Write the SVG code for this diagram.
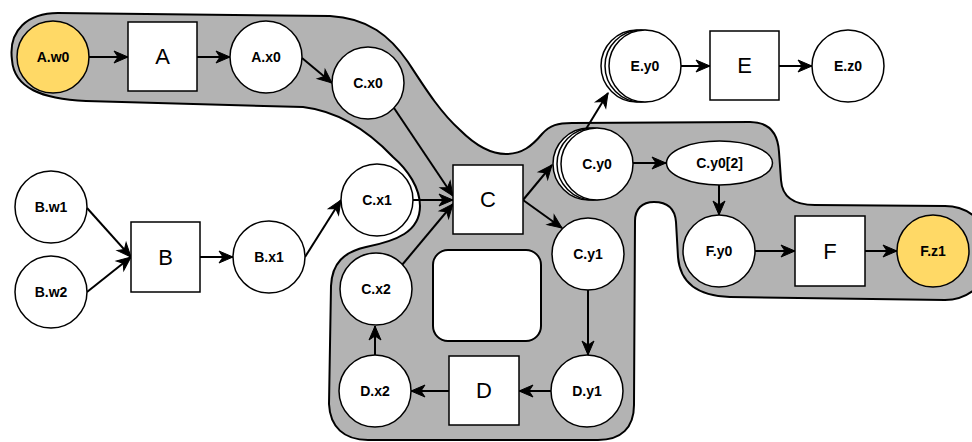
<svg xmlns="http://www.w3.org/2000/svg" width="972" height="442" viewBox="0 0 972 442">
  <defs>
    <marker id="arrow" markerUnits="userSpaceOnUse" markerWidth="16" markerHeight="14" refX="14" refY="6" orient="auto" overflow="visible">
      <path d="M0,0 L14,6 L0,12 L4,6 Z" fill="#000" stroke="#000" stroke-width="1" stroke-linejoin="miter"/>
    </marker>
  </defs>
  <style>
    .blob { fill: #b3b3b3; stroke: #000; stroke-width: 2; stroke-linejoin: round; }
    .hole { fill: #fff; stroke: #000; stroke-width: 2; }
    .var { fill: #fff; stroke: #000; stroke-width: 1.5; }
    .io { fill: #ffd966; stroke: #000; stroke-width: 1.5; }
    .op { fill: #fff; stroke: #000; stroke-width: 1.5; }
    .vlabel { font-family: "Liberation Sans", Arial, sans-serif; font-size: 14px; font-weight: bold; text-anchor: middle; fill: #000; }
    .oplabel { font-family: "Liberation Sans", Arial, sans-serif; font-size: 22px; text-anchor: middle; fill: #000; }
    .edge { fill: none; stroke: #000; stroke-width: 2; marker-end: url(#arrow); }
  </style>

  <!-- shaded region grouping the traced path -->
  <g id="region">
    <path class="blob" d="M 12,60 C 8,30 28,13 58,13 L 330,16 C 368,18 390,36 408,62 C 425,88 440,112 460,130 C 478,148 492,154 506,154 C 522,154 532,146 542,134 C 550,125 558,123 572,123 L 750,122 C 770,122 778,134 779,152 L 781,180 C 782,196 792,205 815,205 L 945,206 A 47,47 0 0 1 945,300 L 730,297 C 697,296 680,282 678,257 L 676,222 C 675,209 668,202 654,202 C 642,202 635,209 635,221 L 634,405 C 634,428 621,440 598,440 L 368,440 C 344,440 330,427 329,404 L 331,286 C 332,263 344,252 366,247 C 396,241 420,232 420,206 C 420,188 408,170 393,157 C 375,138 345,112 303,107 L 86,101 C 42,99 14,88 12,60 Z"/>
    <rect class="hole" x="433" y="250" width="108" height="91" rx="15" ry="15"/>
  </g>

  <!-- connectors -->
  <g id="edges">
    <line class="edge" x1="89" y1="57" x2="128" y2="57"/>
    <line class="edge" x1="197" y1="57" x2="230" y2="57"/>
    <line class="edge" x1="302" y1="58" x2="332" y2="83"/>
    <line class="edge" x1="394" y1="108" x2="453" y2="196"/>
    <line class="edge" x1="413" y1="200" x2="453" y2="200"/>
    <line class="edge" x1="402" y1="265" x2="453" y2="204"/>
    <line class="edge" x1="87" y1="208" x2="131" y2="257"/>
    <line class="edge" x1="87" y1="292" x2="131" y2="257"/>
    <line class="edge" x1="200" y1="257" x2="233" y2="257"/>
    <line class="edge" x1="305" y1="257" x2="341" y2="200"/>
    <line class="edge" x1="523" y1="200" x2="552" y2="165"/>
    <line class="edge" x1="523" y1="200" x2="562" y2="228"/>
    <line class="edge" x1="586" y1="129" x2="608" y2="93"/>
    <line class="edge" x1="681" y1="66" x2="710" y2="66"/>
    <line class="edge" x1="779" y1="66" x2="812" y2="66"/>
    <line class="edge" x1="633" y1="163" x2="666" y2="163"/>
    <line class="edge" x1="719" y1="185" x2="719" y2="215"/>
    <line class="edge" x1="755" y1="251" x2="795" y2="251"/>
    <line class="edge" x1="865" y1="251" x2="897" y2="251"/>
    <line class="edge" x1="588" y1="290" x2="588" y2="355"/>
    <line class="edge" x1="551" y1="391" x2="519" y2="391"/>
    <line class="edge" x1="449" y1="391" x2="411" y2="391"/>
    <line class="edge" x1="375" y1="355" x2="375" y2="326"/>
  </g>

  <!-- nodes -->
  <g id="A.w0"><circle class="io" cx="53" cy="57" r="36"/><text class="vlabel" x="53" y="62">A.w0</text></g>
  <g id="A"><rect class="op" x="128" y="22" width="69" height="69"/><text class="oplabel" x="162.5" y="64">A</text></g>
  <g id="A.x0"><circle class="var" cx="266" cy="57" r="36"/><text class="vlabel" x="266" y="62">A.x0</text></g>
  <g id="C.x0"><circle class="var" cx="368" cy="83" r="36"/><text class="vlabel" x="368" y="88">C.x0</text></g>

  <g id="B.w1"><circle class="var" cx="51" cy="207" r="36"/><text class="vlabel" x="51" y="212">B.w1</text></g>
  <g id="B.w2"><circle class="var" cx="51" cy="292" r="36"/><text class="vlabel" x="51" y="297">B.w2</text></g>
  <g id="B"><rect class="op" x="131" y="222" width="69" height="70"/><text class="oplabel" x="165.5" y="265">B</text></g>
  <g id="B.x1"><circle class="var" cx="269" cy="257" r="36"/><text class="vlabel" x="269" y="262">B.x1</text></g>

  <g id="C.x1"><circle class="var" cx="377" cy="200" r="36"/><text class="vlabel" x="377" y="205">C.x1</text></g>
  <g id="C.x2"><circle class="var" cx="376" cy="289" r="36"/><text class="vlabel" x="376" y="294">C.x2</text></g>
  <g id="C"><rect class="op" x="453" y="165" width="70" height="69"/><text class="oplabel" x="488" y="207">C</text></g>

  <g id="C.y0">
    <circle class="var" cx="589" cy="164" r="36"/>
    <circle class="var" cx="593" cy="164" r="36"/>
    <circle class="var" cx="597" cy="164" r="36"/>
    <text class="vlabel" x="597" y="169">C.y0</text>
  </g>
  <g id="C.y0[2]"><ellipse class="var" cx="719.5" cy="163" rx="53" ry="22"/><text class="vlabel" x="719.5" y="168">C.y0[2]</text></g>
  <g id="C.y1"><circle class="var" cx="588" cy="254" r="36"/><text class="vlabel" x="588" y="259">C.y1</text></g>

  <g id="E.y0">
    <circle class="var" cx="637" cy="66" r="36"/>
    <circle class="var" cx="641" cy="66" r="36"/>
    <circle class="var" cx="645" cy="66" r="36"/>
    <text class="vlabel" x="645" y="71">E.y0</text>
  </g>
  <g id="E"><rect class="op" x="710" y="31" width="69" height="69"/><text class="oplabel" x="744.5" y="73">E</text></g>
  <g id="E.z0"><circle class="var" cx="848" cy="66" r="36"/><text class="vlabel" x="848" y="71">E.z0</text></g>

  <g id="F.y0"><circle class="var" cx="719" cy="251" r="36"/><text class="vlabel" x="719" y="256">F.y0</text></g>
  <g id="F"><rect class="op" x="795" y="216" width="70" height="70"/><text class="oplabel" x="830" y="259">F</text></g>
  <g id="F.z1"><circle class="io" cx="933" cy="251" r="36"/><text class="vlabel" x="933" y="256">F.z1</text></g>

  <g id="D.y1"><circle class="var" cx="587" cy="391" r="36"/><text class="vlabel" x="587" y="396">D.y1</text></g>
  <g id="D"><rect class="op" x="449" y="356" width="70" height="69"/><text class="oplabel" x="484" y="398">D</text></g>
  <g id="D.x2"><circle class="var" cx="375" cy="391" r="36"/><text class="vlabel" x="375" y="396">D.x2</text></g>
</svg>
